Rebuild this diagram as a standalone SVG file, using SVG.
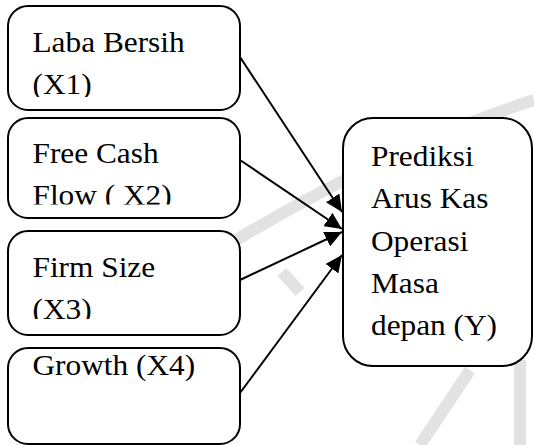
<svg xmlns="http://www.w3.org/2000/svg" width="534" height="445" viewBox="0 0 534 445">
  <style>
    .box { fill: #ffffff; stroke: #000000; stroke-width: 2; }
    .lbl { font-family: 'Liberation Serif', serif; font-size: 29px; fill: #000000; }
    .conn { stroke: #000000; stroke-width: 2; fill: none; }
    .wm { stroke: #e2e2e2; stroke-width: 12; fill: none; stroke-linecap: butt; }
  </style>
  <defs>
    <marker id="arrow" markerUnits="userSpaceOnUse" markerWidth="18" markerHeight="16" refX="17" refY="8" orient="auto">
      <path d="M0,0 L17,8 L0,16 z" fill="#000000"/>
    </marker>
    <clipPath id="clip1"><rect x="8" y="6" width="232" height="91"/></clipPath>
    <clipPath id="clip2"><rect x="8" y="118" width="232" height="86.5"/></clipPath>
    <clipPath id="clip3"><rect x="8" y="231" width="232" height="88"/></clipPath>
  </defs>
  <rect width="534" height="445" fill="#ffffff"/>
  <g id="watermark">
    <path class="wm" d="M200 262 Q380 150 534 100"/>
    <path class="wm" d="M282 272 L300 292"/>
    <path class="wm" d="M470 370 L420 445"/>
    <path class="wm" d="M520 360 L520 445"/>
  </g>
  <g id="connectors">
    <line class="conn" x1="240" y1="57" x2="342" y2="212" marker-end="url(#arrow)"/>
    <line class="conn" x1="240" y1="160" x2="342" y2="229" marker-end="url(#arrow)"/>
    <line class="conn" x1="240" y1="280" x2="342" y2="232" marker-end="url(#arrow)"/>
    <line class="conn" x1="240" y1="393" x2="342" y2="255" marker-end="url(#arrow)"/>
  </g>
  <g id="x1">
    <rect class="box" x="8" y="6" width="232" height="104" rx="20"/>
    <g clip-path="url(#clip1)">
      <text class="lbl" transform="translate(32.5 51.7) scale(1.08 1)">Laba Bersih</text>
      <text class="lbl" transform="translate(32.5 93.5) scale(1.08 1)">(X1)</text>
    </g>
  </g>
  <g id="x2">
    <rect class="box" x="8" y="118" width="232" height="100" rx="20"/>
    <g clip-path="url(#clip2)">
      <text class="lbl" transform="translate(32.5 162.7) scale(1.08 1)">Free Cash</text>
      <text class="lbl" transform="translate(32.5 205) scale(1.08 1)">Flow ( X2)</text>
    </g>
  </g>
  <g id="x3">
    <rect class="box" x="8" y="231" width="232" height="104" rx="20"/>
    <g clip-path="url(#clip3)">
      <text class="lbl" transform="translate(32.5 276.7) scale(1.08 1)">Firm Size</text>
      <text class="lbl" transform="translate(32.5 318.7) scale(1.08 1)">(X3)</text>
    </g>
  </g>
  <g id="x4">
    <rect class="box" x="8" y="348" width="232" height="96" rx="20"/>
    <text class="lbl" transform="translate(32.5 375) scale(1.08 1)">Growth (X4)</text>
  </g>
  <g id="y">
    <rect class="box" x="343" y="118" width="189" height="248" rx="30"/>
    <text class="lbl" transform="translate(371 166) scale(1.08 1)">Prediksi</text>
    <text class="lbl" transform="translate(371 208.3) scale(1.08 1)">Arus Kas</text>
    <text class="lbl" transform="translate(371 250.6) scale(1.08 1)">Operasi</text>
    <text class="lbl" transform="translate(371 292.9) scale(1.08 1)">Masa</text>
    <text class="lbl" transform="translate(371 335.2) scale(1.08 1)">depan (Y)</text>
  </g>
</svg>
